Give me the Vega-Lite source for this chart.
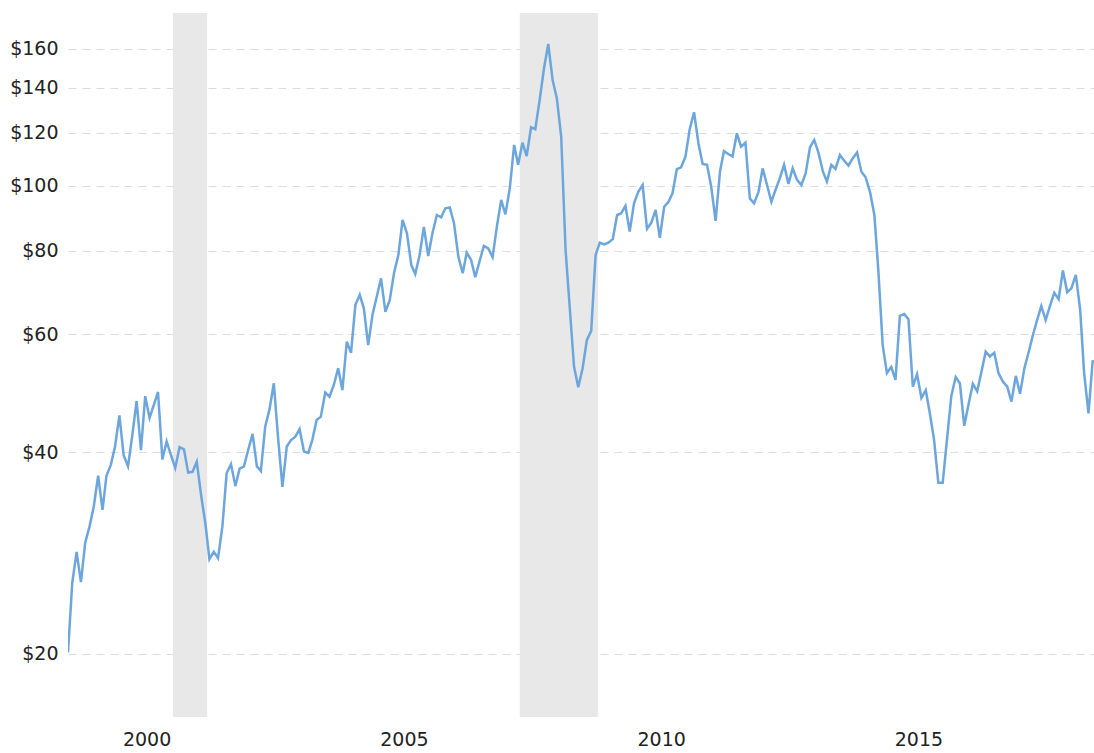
{
  "$schema": "https://vega.github.io/schema/vega-lite/v6.json",
  "width": 1026,
  "height": 704,
  "autosize": {"type": "none"},
  "padding": {"left": 68, "top": 13, "right": 0, "bottom": 36},
  "background": "white",
  "config": {
    "view": {"stroke": null},
    "font": "DejaVu Sans",
    "axis": {"labelFont": "DejaVu Sans", "labelFontSize": 19, "labelColor": "#222222"}
  },
  "datasets": {
    "bands": [
      {"start": "2000-06-15", "end": "2001-02-13"},
      {"start": "2007-03-13", "end": "2008-09-19"}
    ],
    "price": [
      {"date": "1998-06-01", "price": 20.1},
      {"date": "1998-07-01", "price": 25.5},
      {"date": "1998-08-01", "price": 28.4},
      {"date": "1998-09-01", "price": 25.6},
      {"date": "1998-10-01", "price": 29.3},
      {"date": "1998-11-01", "price": 31.0},
      {"date": "1998-12-01", "price": 33.2},
      {"date": "1999-01-01", "price": 36.9},
      {"date": "1999-02-01", "price": 32.8},
      {"date": "1999-03-01", "price": 36.9},
      {"date": "1999-04-01", "price": 38.3},
      {"date": "1999-05-01", "price": 40.8},
      {"date": "1999-06-01", "price": 45.4},
      {"date": "1999-07-01", "price": 39.6},
      {"date": "1999-08-01", "price": 38.1},
      {"date": "1999-09-01", "price": 42.5},
      {"date": "1999-10-01", "price": 47.7},
      {"date": "1999-11-01", "price": 40.3},
      {"date": "1999-12-01", "price": 48.5},
      {"date": "2000-01-01", "price": 45.0},
      {"date": "2000-02-01", "price": 47.1},
      {"date": "2000-03-01", "price": 49.2},
      {"date": "2000-04-01", "price": 39.0},
      {"date": "2000-05-01", "price": 41.5},
      {"date": "2000-06-01", "price": 39.6},
      {"date": "2000-07-01", "price": 37.9},
      {"date": "2000-08-01", "price": 40.7},
      {"date": "2000-09-01", "price": 40.4},
      {"date": "2000-10-01", "price": 37.3},
      {"date": "2000-11-01", "price": 37.4},
      {"date": "2000-12-01", "price": 38.7},
      {"date": "2001-01-01", "price": 34.5},
      {"date": "2001-02-01", "price": 31.2},
      {"date": "2001-03-01", "price": 27.7},
      {"date": "2001-04-01", "price": 28.4},
      {"date": "2001-05-01", "price": 27.8},
      {"date": "2001-06-01", "price": 31.0},
      {"date": "2001-07-01", "price": 37.2},
      {"date": "2001-08-01", "price": 38.4},
      {"date": "2001-09-01", "price": 35.6},
      {"date": "2001-10-01", "price": 37.8},
      {"date": "2001-11-01", "price": 38.1},
      {"date": "2001-12-01", "price": 40.3},
      {"date": "2002-01-01", "price": 42.6},
      {"date": "2002-02-01", "price": 38.1},
      {"date": "2002-03-01", "price": 37.5},
      {"date": "2002-04-01", "price": 43.7},
      {"date": "2002-05-01", "price": 46.3},
      {"date": "2002-06-01", "price": 50.7},
      {"date": "2002-07-01", "price": 42.1},
      {"date": "2002-08-01", "price": 35.5},
      {"date": "2002-09-01", "price": 40.8},
      {"date": "2002-10-01", "price": 41.7},
      {"date": "2002-11-01", "price": 42.2},
      {"date": "2002-12-01", "price": 43.3},
      {"date": "2003-01-01", "price": 40.1},
      {"date": "2003-02-01", "price": 39.9},
      {"date": "2003-03-01", "price": 41.7},
      {"date": "2003-04-01", "price": 44.7},
      {"date": "2003-05-01", "price": 45.2},
      {"date": "2003-06-01", "price": 49.1},
      {"date": "2003-07-01", "price": 48.4},
      {"date": "2003-08-01", "price": 50.4},
      {"date": "2003-09-01", "price": 53.4},
      {"date": "2003-10-01", "price": 49.5},
      {"date": "2003-11-01", "price": 58.5},
      {"date": "2003-12-01", "price": 56.3},
      {"date": "2004-01-01", "price": 66.4},
      {"date": "2004-02-01", "price": 68.7},
      {"date": "2004-03-01", "price": 65.6},
      {"date": "2004-04-01", "price": 57.8},
      {"date": "2004-05-01", "price": 64.1},
      {"date": "2004-06-01", "price": 68.3},
      {"date": "2004-07-01", "price": 72.7},
      {"date": "2004-08-01", "price": 64.8},
      {"date": "2004-09-01", "price": 67.5},
      {"date": "2004-10-01", "price": 74.0},
      {"date": "2004-11-01", "price": 78.8},
      {"date": "2004-12-01", "price": 88.9},
      {"date": "2005-01-01", "price": 84.9},
      {"date": "2005-02-01", "price": 76.1},
      {"date": "2005-03-01", "price": 73.8},
      {"date": "2005-04-01", "price": 78.8},
      {"date": "2005-05-01", "price": 86.8},
      {"date": "2005-06-01", "price": 78.5},
      {"date": "2005-07-01", "price": 84.9},
      {"date": "2005-08-01", "price": 90.4},
      {"date": "2005-09-01", "price": 89.7},
      {"date": "2005-10-01", "price": 92.5},
      {"date": "2005-11-01", "price": 92.8},
      {"date": "2005-12-01", "price": 87.9},
      {"date": "2006-01-01", "price": 78.3},
      {"date": "2006-02-01", "price": 74.0},
      {"date": "2006-03-01", "price": 79.4},
      {"date": "2006-04-01", "price": 77.5},
      {"date": "2006-05-01", "price": 73.0},
      {"date": "2006-06-01", "price": 77.2},
      {"date": "2006-07-01", "price": 81.3},
      {"date": "2006-08-01", "price": 80.6},
      {"date": "2006-09-01", "price": 78.2},
      {"date": "2006-10-01", "price": 86.8},
      {"date": "2006-11-01", "price": 95.2},
      {"date": "2006-12-01", "price": 90.6},
      {"date": "2007-01-01", "price": 99.1},
      {"date": "2007-02-01", "price": 115.0},
      {"date": "2007-03-01", "price": 107.4},
      {"date": "2007-04-01", "price": 115.9},
      {"date": "2007-05-01", "price": 110.7},
      {"date": "2007-06-01", "price": 122.2},
      {"date": "2007-07-01", "price": 121.4},
      {"date": "2007-08-01", "price": 134.2},
      {"date": "2007-09-01", "price": 149.7},
      {"date": "2007-10-01", "price": 162.7},
      {"date": "2007-11-01", "price": 143.8},
      {"date": "2007-12-01", "price": 135.0},
      {"date": "2008-01-01", "price": 118.3},
      {"date": "2008-02-01", "price": 80.2},
      {"date": "2008-03-01", "price": 66.0},
      {"date": "2008-04-01", "price": 53.7},
      {"date": "2008-05-01", "price": 50.0},
      {"date": "2008-06-01", "price": 53.4},
      {"date": "2008-07-01", "price": 58.8},
      {"date": "2008-08-01", "price": 60.7},
      {"date": "2008-09-01", "price": 78.8},
      {"date": "2008-10-01", "price": 82.2},
      {"date": "2008-11-01", "price": 81.7},
      {"date": "2008-12-01", "price": 82.2},
      {"date": "2009-01-01", "price": 83.2},
      {"date": "2009-02-01", "price": 90.4},
      {"date": "2009-03-01", "price": 90.9},
      {"date": "2009-04-01", "price": 93.3},
      {"date": "2009-05-01", "price": 85.4},
      {"date": "2009-06-01", "price": 94.1},
      {"date": "2009-07-01", "price": 97.9},
      {"date": "2009-08-01", "price": 100.2},
      {"date": "2009-09-01", "price": 86.2},
      {"date": "2009-10-01", "price": 88.0},
      {"date": "2009-11-01", "price": 92.0},
      {"date": "2009-12-01", "price": 83.6},
      {"date": "2010-01-01", "price": 93.0},
      {"date": "2010-02-01", "price": 94.6},
      {"date": "2010-03-01", "price": 97.4},
      {"date": "2010-04-01", "price": 105.8},
      {"date": "2010-05-01", "price": 106.5},
      {"date": "2010-06-01", "price": 110.5},
      {"date": "2010-07-01", "price": 121.4},
      {"date": "2010-08-01", "price": 128.7},
      {"date": "2010-09-01", "price": 115.7},
      {"date": "2010-10-01", "price": 107.7},
      {"date": "2010-11-01", "price": 107.4},
      {"date": "2010-12-01", "price": 99.6},
      {"date": "2011-01-01", "price": 88.6},
      {"date": "2011-02-01", "price": 104.9},
      {"date": "2011-03-01", "price": 112.6},
      {"date": "2011-04-01", "price": 111.5},
      {"date": "2011-05-01", "price": 110.5},
      {"date": "2011-06-01", "price": 119.7},
      {"date": "2011-07-01", "price": 114.3},
      {"date": "2011-08-01", "price": 115.9},
      {"date": "2011-09-01", "price": 95.7},
      {"date": "2011-10-01", "price": 94.1},
      {"date": "2011-11-01", "price": 97.8},
      {"date": "2011-12-01", "price": 106.1},
      {"date": "2012-01-01", "price": 100.2},
      {"date": "2012-02-01", "price": 94.6},
      {"date": "2012-03-01", "price": 98.5},
      {"date": "2012-04-01", "price": 102.6},
      {"date": "2012-05-01", "price": 107.4},
      {"date": "2012-06-01", "price": 100.6},
      {"date": "2012-07-01", "price": 106.1},
      {"date": "2012-08-01", "price": 102.0},
      {"date": "2012-09-01", "price": 100.2},
      {"date": "2012-10-01", "price": 104.3},
      {"date": "2012-11-01", "price": 114.1},
      {"date": "2012-12-01", "price": 117.0},
      {"date": "2013-01-01", "price": 111.8},
      {"date": "2013-02-01", "price": 104.9},
      {"date": "2013-03-01", "price": 101.4},
      {"date": "2013-04-01", "price": 107.4},
      {"date": "2013-05-01", "price": 105.9},
      {"date": "2013-06-01", "price": 111.1},
      {"date": "2013-07-01", "price": 109.0},
      {"date": "2013-08-01", "price": 107.1},
      {"date": "2013-09-01", "price": 109.9},
      {"date": "2013-10-01", "price": 112.1},
      {"date": "2013-11-01", "price": 104.9},
      {"date": "2013-12-01", "price": 102.9},
      {"date": "2014-01-01", "price": 97.9},
      {"date": "2014-02-01", "price": 90.4},
      {"date": "2014-03-01", "price": 74.8},
      {"date": "2014-04-01", "price": 57.8},
      {"date": "2014-05-01", "price": 52.5},
      {"date": "2014-06-01", "price": 53.6},
      {"date": "2014-07-01", "price": 51.3},
      {"date": "2014-08-01", "price": 63.9},
      {"date": "2014-09-01", "price": 64.3},
      {"date": "2014-10-01", "price": 63.2},
      {"date": "2014-11-01", "price": 50.1},
      {"date": "2014-12-01", "price": 52.3},
      {"date": "2015-01-01", "price": 48.2},
      {"date": "2015-02-01", "price": 49.5},
      {"date": "2015-03-01", "price": 45.8},
      {"date": "2015-04-01", "price": 41.7},
      {"date": "2015-05-01", "price": 36.0},
      {"date": "2015-06-01", "price": 36.0},
      {"date": "2015-07-01", "price": 41.7},
      {"date": "2015-08-01", "price": 48.5},
      {"date": "2015-09-01", "price": 51.8},
      {"date": "2015-10-01", "price": 50.7},
      {"date": "2015-11-01", "price": 43.8},
      {"date": "2015-12-01", "price": 47.1},
      {"date": "2016-01-01", "price": 50.6},
      {"date": "2016-02-01", "price": 49.3},
      {"date": "2016-03-01", "price": 52.6},
      {"date": "2016-04-01", "price": 56.5},
      {"date": "2016-05-01", "price": 55.6},
      {"date": "2016-06-01", "price": 56.3},
      {"date": "2016-07-01", "price": 52.5},
      {"date": "2016-08-01", "price": 51.0},
      {"date": "2016-09-01", "price": 50.1},
      {"date": "2016-10-01", "price": 47.6},
      {"date": "2016-11-01", "price": 52.0},
      {"date": "2016-12-01", "price": 48.9},
      {"date": "2017-01-01", "price": 53.4},
      {"date": "2017-02-01", "price": 56.5},
      {"date": "2017-03-01", "price": 59.7},
      {"date": "2017-04-01", "price": 63.0},
      {"date": "2017-05-01", "price": 66.1},
      {"date": "2017-06-01", "price": 63.0},
      {"date": "2017-07-01", "price": 66.1},
      {"date": "2017-08-01", "price": 69.2},
      {"date": "2017-09-01", "price": 67.7},
      {"date": "2017-10-01", "price": 74.7},
      {"date": "2017-11-01", "price": 69.3},
      {"date": "2017-12-01", "price": 70.3},
      {"date": "2018-01-01", "price": 73.6},
      {"date": "2018-02-01", "price": 65.2},
      {"date": "2018-03-01", "price": 52.5},
      {"date": "2018-04-01", "price": 45.7},
      {"date": "2018-05-01", "price": 54.9}
    ]
  },
  "layer": [
    {
      "data": {"name": "bands"},
      "mark": {"type": "rect", "color": "#e8e8e8"},
      "encoding": {
        "x": {"field": "start", "type": "temporal"},
        "x2": {"field": "end"}
      }
    },
    {
      "data": {"name": "price"},
      "mark": {"type": "line", "color": "#6ca6dc", "strokeWidth": 2.5, "clip": true},
      "encoding": {
        "x": {
          "field": "date",
          "type": "temporal",
          "scale": {"type": "utc", "domain": ["1998-06-01", "2018-05-10"]},
          "axis": {
            "title": null,
            "values": [
              {"year": 2000, "month": 1, "date": 1, "utc": true},
              {"year": 2005, "month": 1, "date": 1, "utc": true},
              {"year": 2010, "month": 1, "date": 1, "utc": true},
              {"year": 2015, "month": 1, "date": 1, "utc": true}
            ],
            "format": "%Y",
            "formatType": "utc",
            "grid": false,
            "domain": false,
            "ticks": false,
            "labelOffset": -3,
            "labelPadding": 13
          }
        },
        "y": {
          "field": "price",
          "type": "quantitative",
          "scale": {"type": "log", "domain": [16.1, 181], "nice": false},
          "axis": {
            "title": null,
            "values": [20, 40, 60, 80, 100, 120, 140, 160],
            "labelExpr": "'$' + datum.value",
            "domain": false,
            "ticks": false,
            "labelPadding": 10,
            "grid": true,
            "gridDash": [8, 6],
            "gridColor": "#dcdcdc",
            "gridWidth": 1
          }
        }
      }
    }
  ]
}
